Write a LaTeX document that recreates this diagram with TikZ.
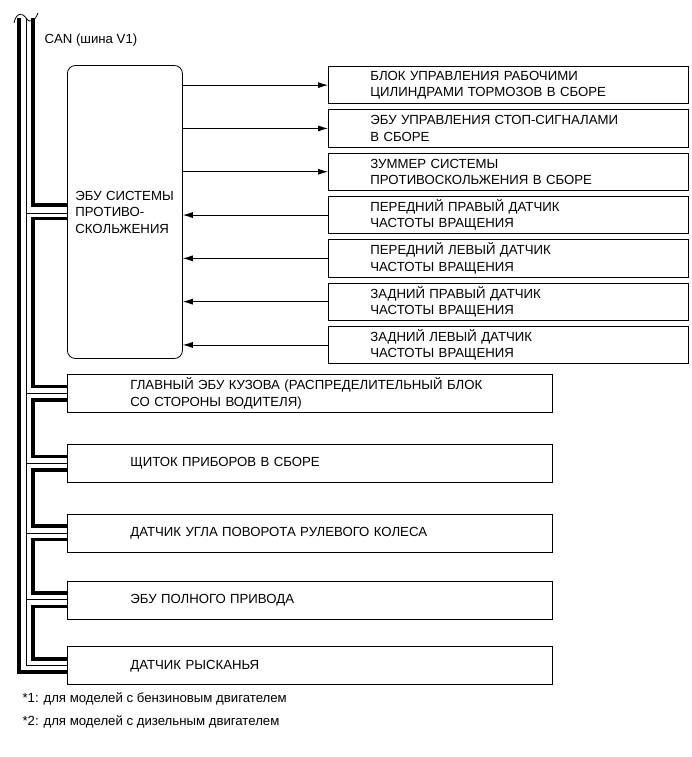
\documentclass[tikz,border=0pt]{standalone}
\usepackage{fontspec}
\setmainfont{Liberation Sans}
\usetikzlibrary{arrows.meta,positioning,calc}

\begin{document}
\begin{tikzpicture}[
  x=1pt, y=1pt,
  >={Latex[length=10pt,width=6pt]},
  labelfont/.style={font=\fontsize{13.2}{16.5}\selectfont},
  ecubox/.style={rectangle, rounded corners=8pt, draw=black, line width=0.8pt, minimum height=293pt, text width=99pt, inner xsep=8pt, inner ysep=0pt, align=left, labelfont},
  unitbox/.style={rectangle, draw=black, line width=0.8pt, minimum height=37.5pt, text width=276pt, inner xsep=42pt, inner ysep=0pt, align=left, labelfont},
  busbox/.style={rectangle, draw=black, line width=0.8pt, minimum height=38pt, text width=359pt, inner xsep=63pt, inner ysep=0pt, align=left, labelfont},
  sigline/.style={->, line width=0.8pt},
  canhi/.style={line width=3.6pt},
  canlo/.style={line width=1pt}
]
  \useasboundingbox (0,0) rectangle (691,-757);

  % Anti-skid ECU and its sensors / actuators
  \node[ecubox, anchor=west] (ecu) at (67,-212) {ЭБУ СИСТЕМЫ\\ПРОТИВО-\\СКОЛЬЖЕНИЯ};
  \node[unitbox, anchor=north west] (r1) at (328,-66) {БЛОК УПРАВЛЕНИЯ РАБОЧИМИ\\ЦИЛИНДРАМИ ТОРМОЗОВ В СБОРЕ};
  \node[unitbox, below=5pt of r1] (r2) {ЭБУ УПРАВЛЕНИЯ СТОП-СИГНАЛАМИ\\В СБОРЕ};
  \node[unitbox, below=5pt of r2] (r3) {ЗУММЕР СИСТЕМЫ\\ПРОТИВОСКОЛЬЖЕНИЯ В СБОРЕ};
  \node[unitbox, below=5pt of r3] (r4) {ПЕРЕДНИЙ ПРАВЫЙ ДАТЧИК\\ЧАСТОТЫ ВРАЩЕНИЯ};
  \node[unitbox, below=5pt of r4] (r5) {ПЕРЕДНИЙ ЛЕВЫЙ ДАТЧИК\\ЧАСТОТЫ ВРАЩЕНИЯ};
  \node[unitbox, below=5pt of r5] (r6) {ЗАДНИЙ ПРАВЫЙ ДАТЧИК\\ЧАСТОТЫ ВРАЩЕНИЯ};
  \node[unitbox, below=5pt of r6] (r7) {ЗАДНИЙ ЛЕВЫЙ ДАТЧИК\\ЧАСТОТЫ ВРАЩЕНИЯ};

  % Other CAN units
  \node[busbox, anchor=west] (b1) at (67,-393.5) {\mbox{ГЛАВНЫЙ ЭБУ КУЗОВА (РАСПРЕДЕЛИТЕЛЬНЫЙ БЛОК}\\СО СТОРОНЫ ВОДИТЕЛЯ)};
  \node[busbox, below=31pt of b1] (b2) {ЩИТОК ПРИБОРОВ В СБОРЕ};
  \node[busbox, below=31pt of b2] (b3) {ДАТЧИК УГЛА ПОВОРОТА РУЛЕВОГО КОЛЕСА};
  \node[busbox, below=28pt of b3] (b4) {ЭБУ ПОЛНОГО ПРИВОДА};
  \node[busbox, below=27pt of b4] (b5) {ДАТЧИК РЫСКАНЬЯ};

  % Signal arrows
  \draw[sigline] (ecu.east |- r1.west) -- (r1.west);
  \draw[sigline] (ecu.east |- r2.west) -- (r2.west);
  \draw[sigline] (ecu.east |- r3.west) -- (r3.west);
  \draw[sigline] (r4.west) -- (ecu.east |- r4.west);
  \draw[sigline] (r5.west) -- (ecu.east |- r5.west);
  \draw[sigline] (r6.west) -- (ecu.east |- r6.west);
  \draw[sigline] (r7.west) -- (ecu.east |- r7.west);

  % CAN bus
  \coordinate (topA) at (19,-18);
  \coordinate (topB) at (26,-18);
  \coordinate (topC) at (33,-18);
  \draw[line width=0.8pt] (14,-23) .. controls (16,-13) and (22,-12) .. (26,-18) .. controls (30,-24) and (35,-21) .. (38,-13);
  \node[labelfont, anchor=west] (can) at (41,-40) {CAN (шина V1)};

  \draw[canhi] (topA) |- ([yshift=-6.5pt]b5.west);
  \draw[canlo] (topB) |- (b5.west);
  \draw[canlo] (topB |- ecu.west) ++(0,-1) -- ([yshift=-1pt]ecu.west);
  \foreach \u in {b1,b2,b3,b4}
    \draw[canlo] (topB |- \u.west) -- (\u.west);
  \draw[canhi] (topC) |- ([yshift=7pt]ecu.west);
  \foreach \a/\b in {ecu/b1,b1/b2,b2/b3,b3/b4,b4/b5}
    \draw[canhi] ([yshift=-6.5pt]\a.west) -- ++(-34pt,0) |- ([yshift=7pt]\b.west);

  % Notes
  \node[labelfont, anchor=west] (note1) at (19,-699) {*1: для моделей с бензиновым двигателем};
  \node[labelfont, below=3pt of note1.south west, anchor=north west] (note2) {*2: для моделей с дизельным двигателем};
\end{tikzpicture}
\end{document}
